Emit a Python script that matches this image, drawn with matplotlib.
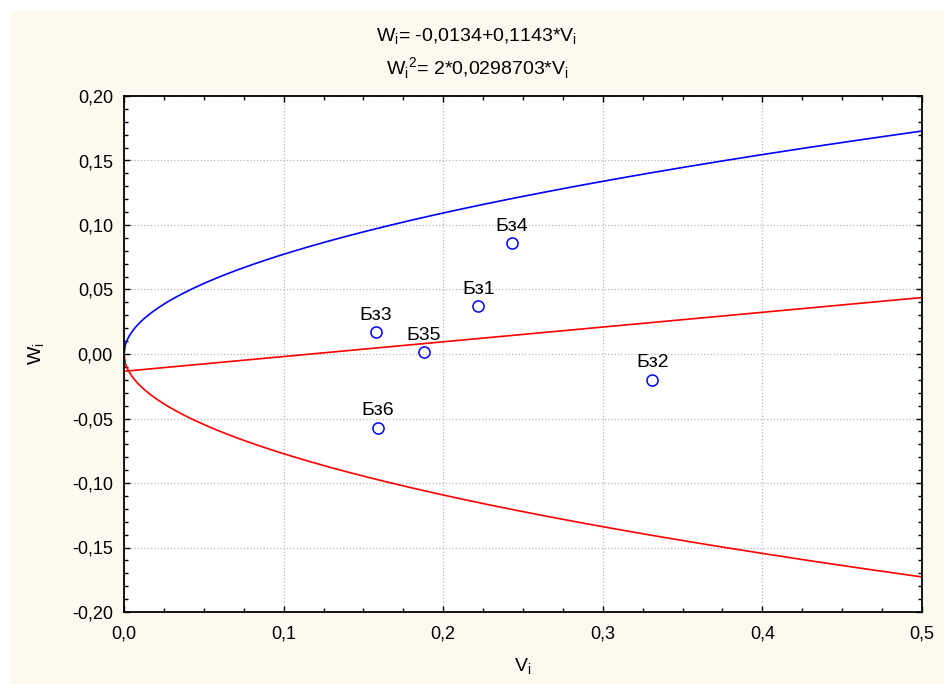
import numpy as np
import matplotlib.pyplot as plt
from matplotlib.ticker import MultipleLocator, FuncFormatter
from matplotlib.patches import Rectangle

plt.rcParams['font.family'] = ['Liberation Sans', 'DejaVu Sans']
plt.rcParams['mathtext.fontset'] = 'custom'
plt.rcParams['mathtext.rm'] = 'Liberation Sans'

# Fitted model coefficients (from the chart title)
A0 = -0.0134
A1 = 0.1143
K = 0.0298703

# Points
labels = ['Бз1', 'Бз2', 'Бз3', 'Бз4', 'Б35', 'Бз6']
v_pts = [0.222, 0.331, 0.158, 0.243, 0.188, 0.159]
w_pts = [0.037, -0.020, 0.017, 0.086, 0.0015, -0.057]

v = np.linspace(0, 0.5, 600)
w_line = A0 + A1 * v
w_par = np.sqrt(2 * K * v)

fig = plt.figure(figsize=(9.45, 6.84), dpi=100)
fig.patch.set_facecolor('white')
fig.patches.append(Rectangle((11 / 945, 0), 1, 1 - 11 / 684, transform=fig.transFigure,
                             facecolor='#fdf9ef', edgecolor='none', zorder=-10))

ax = fig.add_axes([124 / 945, 1 - 612 / 684, 798 / 945, 516 / 684])
ax.set_facecolor('white')

ax.plot(v, w_par, color='#0000ff', lw=1.2)
ax.plot(v, -w_par, color='#ff0000', lw=1.2)
ax.plot(v, w_line, color='#ff0000', lw=1.2)

ax.plot(v_pts, w_pts, 'o', mfc='none', mec='#0000ff', ms=8, mew=1.1, zorder=5)
for lab, x, y in zip(labels, v_pts, w_pts):
    ax.annotate(lab, (x, y), xytext=(0, 6), textcoords='offset points',
                ha='center', va='bottom', fontsize=14)

ax.set_xlim(0, 0.5)
ax.set_ylim(-0.2, 0.2)
ax.xaxis.set_major_locator(MultipleLocator(0.1))
ax.xaxis.set_minor_locator(MultipleLocator(0.025))
ax.yaxis.set_major_locator(MultipleLocator(0.05))
ax.yaxis.set_minor_locator(MultipleLocator(0.01))
ax.xaxis.set_major_formatter(FuncFormatter(lambda x, p: f'{x:.1f}'.replace('.', ',').replace('-0,0', '0,0')))
ax.yaxis.set_major_formatter(FuncFormatter(lambda y, p: f'{y:.2f}'.replace('.', ',').replace('-0,00', '0,00')))

ax.tick_params(which='both', direction='in', top=True, right=True, labelsize=13, color='black')
ax.tick_params(which='major', length=4, width=1)
ax.tick_params(which='minor', length=3, width=1)
ax.tick_params(axis='x', pad=10)
ax.tick_params(axis='y', pad=8)
ax.grid(True, which='major', color='#b8b8b8', linestyle=':', lw=0.9)
for s in ax.spines.values():
    s.set_linewidth(1.3)

ax.set_xlabel('V$_\\mathregular{i}$', fontsize=14, labelpad=10)
ax.set_ylabel('W$_\\mathregular{i}$', fontsize=14, labelpad=18)

fig.text(477 / 945, 1 - 37 / 684, 'W$_\\mathregular{i}$= -0,0134+0,1143*V$_\\mathregular{i}$',
         ha='center', va='center', fontsize=14)
fig.text(477 / 945, 1 - 68 / 684, 'W$_\\mathregular{i}$$^\\mathregular{2}$= 2*0,0298703*V$_\\mathregular{i}$',
         ha='center', va='center', fontsize=14)

fig.savefig('out.png', dpi=100, facecolor=fig.get_facecolor())
